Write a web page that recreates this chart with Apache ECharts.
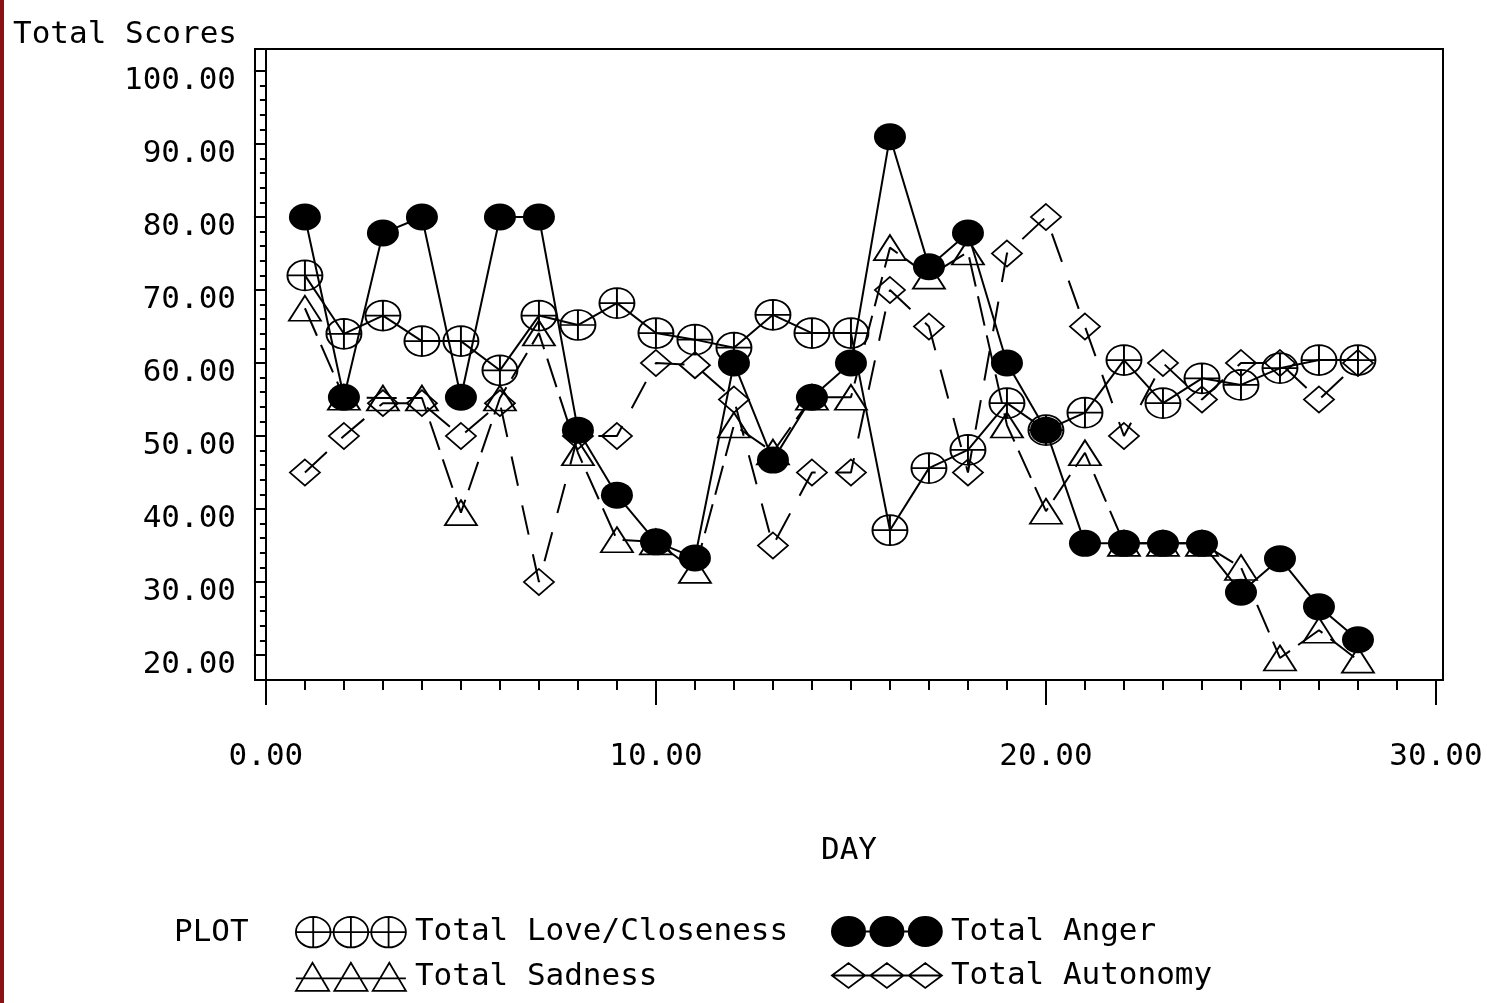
<!DOCTYPE html>
<html>
<head>
<meta charset="utf-8">
<title>Total Scores by DAY</title>
<script src="https://cdn.jsdelivr.net/npm/echarts@6/dist/echarts.min.js"></script>
<style>
  html, body { margin: 0; padding: 0; background: #fff; }
  #chart { position: absolute; left: 0; top: 0; width: 1487px; height: 1003px; }
  /* dark red page edge on the left */
  .edge { position: absolute; left: 0; top: 0; width: 4px; height: 1003px; background: #8a1212; }
</style>
</head>
<body>
<div id="chart"></div>
<div class="edge"></div>
<script>
// data
const days = [1, 2, 3, 4, 5, 6, 7, 8, 9, 10, 11, 12, 13, 14, 15, 16, 17, 18, 19, 20, 21, 22, 23, 24, 25, 26, 27, 28]
const loveCloseness = [72, 64, 66.5, 63, 63, 59, 66.5, 65.2, 68.2, 64.1, 63.2, 62.1, 66.6, 64.1, 64.1, 37.1, 45.6, 48.1, 54.5, 50.8, 53.2, 60.4, 54.5, 57.9, 57, 59.3, 60.4, 60.4]
const totalAnger = [80, 55.3, 77.8, 80, 55.3, 80, 80, 50.8, 41.9, 35.5, 33.3, 60, 46.7, 55.3, 60, 91, 73.2, 77.8, 60, 50.8, 35.3, 35.3, 35.3, 35.3, 28.6, 33.2, 26.6, 22.1]
const totalSadness = [67.5, 55.3, 55.2, 55.2, 39.5, 55.2, 64.1, 47.7, 35.8, 35.5, 31.6, 51.5, 47.8, 55.3, 55.3, 75.8, 71.9, 75.2, 51.5, 39.7, 47.7, 35.3, 35.3, 35.3, 32, 19.6, 23.4, 19.3]
const totalAutonomy = [45, 50, 54.5, 54.5, 50, 54.5, 30, 50, 50, 60, 59.7, 55, 35, 45, 45, 70, 65, 45, 75, 80, 65, 50, 60, 55, 60, 60, 55, 60]

// tick labels
const yMajorTicks = [20, 30, 40, 50, 60, 70, 80, 90, 100]
const yMinorTicks = [22, 24, 26, 28, 32, 34, 36, 38, 42, 44, 46, 48, 52, 54, 56, 58, 62, 64, 66, 68, 72, 74, 76, 78, 82, 84, 86, 88, 92, 94, 96, 98]
const xMajorTicks = [0, 10, 20, 30]
const xMinorTicks = [1, 2, 3, 4, 5, 6, 7, 8, 9, 11, 12, 13, 14, 15, 16, 17, 18, 19, 21, 22, 23, 24, 25, 26, 27, 28, 29]

const FONT = 'DejaVu Sans Mono'
const txt = { fontFamily: FONT, fontSize: 31, color: '#000', fontWeight: 'normal' }

// symbols
const plusCircle = 'path://M-17,0 A17,15 0 1,1 17,0 A17,15 0 1,1 -17,0 Z M0,-15 L0,15 M-17,0 L17,0'

// legend icons (three symbols joined by a line)
const loveIcon = 'path://M1,16 A17,15 0 1,1 35,16 A17,15 0 1,1 1,16 Z M18,1 L18,31 ' +
  'M38,16 A17,15 0 1,1 72,16 A17,15 0 1,1 38,16 Z M55,1 L55,31 ' +
  'M75,16 A17,15 0 1,1 109,16 A17,15 0 1,1 75,16 Z M92,1 L92,31 M1,16 L109,16'
const angerIcon = 'path://M2,16 A16,14 0 1,1 34,16 A16,14 0 1,1 2,16 Z ' +
  'M39,16 A16,14 0 1,1 71,16 A16,14 0 1,1 39,16 Z ' +
  'M76,16 A16,14 0 1,1 108,16 A16,14 0 1,1 76,16 Z M2,16 L108,16'
const sadIcon = 'path://M2,30 L18,3 L34,30 Z M39,30 L55,3 L71,30 Z M76,30 L92,3 L108,30 Z M2,18 L108,18'
const autIcon = 'path://M2,16 L18,4 L34,16 L18,28 Z M39,16 L55,4 L71,16 L55,28 Z M76,16 L92,4 L108,16 L92,28 Z M2,16 L108,16'

const hollow = { color: 'rgba(0,0,0,0)', borderColor: '#000', borderWidth: 1.8 }

const pairs = (vals) => days.map((d, i) => [d, vals[i]])

const option = {
  animation: false,
  backgroundColor: '#fff',
  title: [
    { text: 'Total Scores', left: 13, top: 19, padding: 0, textStyle: txt },
    { text: 'PLOT', left: 174, top: 917, padding: 0, textStyle: txt }
  ],
  legend: [
    {
      left: 295, top: 916, padding: 0, orient: 'vertical',
      itemWidth: 110, itemHeight: 32, itemGap: 13, selectedMode: false,
      textStyle: { ...txt, padding: [0, 0, 0, 4] },
      data: [
        { name: 'Total Love/Closeness', icon: loveIcon, itemStyle: hollow },
        { name: 'Total Sadness', icon: sadIcon, itemStyle: hollow }
      ]
    },
    {
      left: 831, top: 916, padding: 0, orient: 'vertical',
      itemWidth: 110, itemHeight: 32, itemGap: 13, selectedMode: false,
      textStyle: { ...txt, padding: [0, 0, 0, 4] },
      data: [
        { name: 'Total Anger', icon: angerIcon, itemStyle: { color: '#000', borderColor: '#000', borderWidth: 1.8 } },
        { name: 'Total Autonomy', icon: autIcon, itemStyle: hollow }
      ]
    }
  ],
  grid: {
    left: 255, top: 49, width: 1188, height: 631,
    show: true, borderColor: '#000', borderWidth: 2,
    outerBoundsMode: 'none'
  },
  xAxis: [
    {
      type: 'value', min: -0.28, max: 30.18,
      axisLine: { show: true, lineStyle: { color: '#000', width: 2 } },
      axisTick: { show: true, customValues: xMajorTicks, length: 25, lineStyle: { color: '#000', width: 2 } },
      axisLabel: { customValues: xMajorTicks, formatter: (v) => v.toFixed(2), margin: 61, ...txt },
      splitLine: { show: false },
      name: 'DAY', nameLocation: 'middle', nameGap: 155, nameTextStyle: txt
    },
    {
      type: 'value', min: -0.28, max: 30.18, position: 'bottom',
      axisLine: { show: false },
      axisTick: { show: true, customValues: xMinorTicks, length: 10, lineStyle: { color: '#000', width: 2 } },
      axisLabel: { show: false },
      splitLine: { show: false }
    }
  ],
  yAxis: [
    {
      type: 'value', min: 16.58, max: 103.01,
      axisLine: { show: true, lineStyle: { color: '#000', width: 2 } },
      axisTick: { show: true, customValues: yMajorTicks, length: 12, lineStyle: { color: '#000', width: 2 } },
      // SAS draws the labels a little below their ticks
      axisLabel: {
        customValues: yMajorTicks, formatter: (v) => v.toFixed(2), margin: 19,
        verticalAlign: 'top', lineHeight: 20, ...txt
      },
      splitLine: { show: false }
    },
    {
      type: 'value', min: 16.58, max: 103.01, position: 'left',
      axisLine: { show: false },
      axisTick: { show: true, customValues: yMinorTicks, length: 6, lineStyle: { color: '#000', width: 2 } },
      axisLabel: { show: false },
      splitLine: { show: false }
    }
  ],
  series: [
    {
      name: 'Total Love/Closeness', type: 'line', data: pairs(loveCloseness),
      symbol: plusCircle, symbolSize: [35, 30],
      itemStyle: hollow,
      lineStyle: { color: '#000', width: 2 },
      emphasis: { disabled: true }
    },
    {
      name: 'Total Anger', type: 'line', data: pairs(totalAnger), z: 3,
      symbol: 'circle', symbolSize: [32, 27],
      itemStyle: { color: '#000', borderWidth: 0 },
      lineStyle: { color: '#000', width: 2 },
      emphasis: { disabled: true }
    },
    {
      name: 'Total Sadness', type: 'line', data: pairs(totalSadness),
      symbol: 'triangle', symbolSize: [32, 25],
      itemStyle: hollow,
      lineStyle: { color: '#000', width: 2, type: [30, 10] },
      emphasis: { disabled: true }
    },
    {
      name: 'Total Autonomy', type: 'line', data: pairs(totalAutonomy),
      symbol: 'diamond', symbolSize: [30, 26],
      itemStyle: hollow,
      lineStyle: { color: '#000', width: 2, type: [30, 20] },
      emphasis: { disabled: true }
    }
  ]
}

const chart = echarts.init(document.getElementById('chart'))
chart.setOption(option)
window.addEventListener('resize', () => chart.resize())
</script>
</body>
</html>
